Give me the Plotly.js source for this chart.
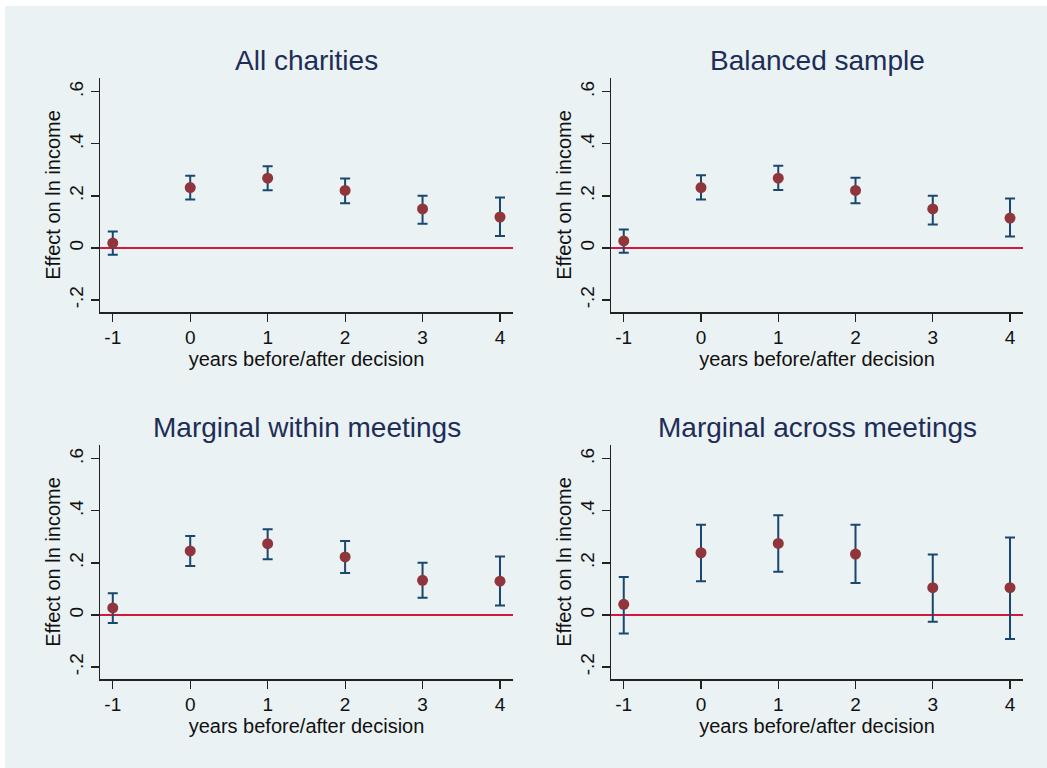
<!DOCTYPE html>
<html>
<head>
<meta charset="utf-8">
<script src="https://cdn.plot.ly/plotly-3.0.1.min.js"></script>
<style>html,body{margin:0;padding:0;background:#fff;}#chart{width:1047px;height:768px;}</style>
</head>
<body>
<div id="chart"></div>
<script>
// ---- data ----
const years = [-1, 0, 1, 2, 3, 4];

const panelTitles = ["All charities", "Balanced sample", "Marginal within meetings", "Marginal across meetings"];

const estAll = [0.019, 0.232, 0.268, 0.221, 0.150, 0.119];
const hiAll  = [0.063, 0.277, 0.314, 0.267, 0.201, 0.194];
const loAll  = [-0.026, 0.186, 0.222, 0.172, 0.093, 0.046];

const estBal = [0.027, 0.232, 0.268, 0.221, 0.150, 0.115];
const hiBal  = [0.071, 0.279, 0.316, 0.270, 0.201, 0.190];
const loBal  = [-0.018, 0.186, 0.223, 0.172, 0.090, 0.044];

const estWithin = [0.027, 0.246, 0.274, 0.223, 0.133, 0.130];
const hiWithin  = [0.083, 0.303, 0.329, 0.284, 0.201, 0.225];
const loWithin  = [-0.031, 0.188, 0.214, 0.161, 0.066, 0.036];

const estAcross = [0.041, 0.239, 0.275, 0.234, 0.105, 0.105];
const hiAcross  = [0.146, 0.347, 0.383, 0.347, 0.232, 0.298];
const loAcross  = [-0.071, 0.130, 0.166, 0.123, -0.026, -0.092];

const yTickVals = [-0.2, 0, 0.2, 0.4, 0.6];
const yTickText = ["-.2", "0", ".2", ".4", ".6"];
const xTickVals = [-1, 0, 1, 2, 3, 4];
const xTickText = ["-1", "0", "1", "2", "3", "4"];
const gridVals = [0.2, 0.4];

const xTitle = "years before/after decision";
const yTitle = "Effect on ln income";

// ---- styling / layout ----
const W = 1047, H = 768;
const FONT = "Liberation Sans, Arial, sans-serif";
const BG = "#EAF2F3";
const MARKER = "#90353B";
const BAR = "#1A476F";
const ZERO = "#D4173E";
const TITLE_C = "#1E2D58";

const series = [
  [estAll, hiAll, loAll],
  [estBal, hiBal, loBal],
  [estWithin, hiWithin, loWithin],
  [estAcross, hiAcross, loAcross]
];

// pixel boxes of plot areas [left, right, top, bottom]
const boxes = [
  [100, 513, 78, 312],
  [611, 1023, 78, 312],
  [100, 513, 445, 679],
  [611, 1023, 445, 679]
];
const titleY = [60, 60, 427, 427];

const traces = [];
const layout = {
  width: W, height: H,
  margin: {l: 0, r: 0, t: 0, b: 0},
  paper_bgcolor: "#ffffff",
  plot_bgcolor: "#ffffff",
  showlegend: false,
  font: {family: FONT, color: "#111111"},
  shapes: [{
    type: "rect", xref: "paper", yref: "paper",
    x0: 5 / W, x1: 1, y0: 0, y1: 1 - 6 / H,
    fillcolor: BG, line: {width: 0}, layer: "below"
  }],
  annotations: []
};

series.forEach((s, i) => {
  const [est, hi, lo] = s;
  const n = i + 1;
  const xa = "x" + (n === 1 ? "" : n);
  const ya = "y" + (n === 1 ? "" : n);
  traces.push({
    type: "scatter", mode: "markers",
    x: years, y: est, xaxis: xa, yaxis: ya,
    marker: {color: MARKER, size: 11},
    error_y: {
      type: "data", symmetric: false,
      array: est.map((v, k) => hi[k] - v),
      arrayminus: est.map((v, k) => v - lo[k]),
      color: BAR, thickness: 2, width: 5
    },
    hoverinfo: "x+y"
  });
  const [l, r, t, b] = boxes[i];
  const xKey = "xaxis" + (n === 1 ? "" : n);
  const yKey = "yaxis" + (n === 1 ? "" : n);
  layout[xKey] = {
    domain: [l / W, r / W], anchor: ya,
    range: [-1.165, 4.168],
    tickvals: xTickVals, ticktext: xTickText,
    ticks: "outside", ticklen: 8, tickwidth: 1.2, tickcolor: "#222",
    showline: true, linecolor: "#222", linewidth: 1.5,
    showgrid: false, zeroline: false,
    tickfont: {family: FONT, size: 19, color: "#111"},
    title: {text: xTitle, font: {family: FONT, size: 20, color: "#111"}, standoff: 0}
  };
  layout[yKey] = {
    domain: [1 - b / H, 1 - t / H], anchor: xa,
    range: [-0.246, 0.653],
    tickvals: yTickVals, ticktext: yTickText, tickangle: -90,
    ticks: "outside", ticklen: 8, tickwidth: 1.2, tickcolor: "#222",
    showline: true, linecolor: "#222", linewidth: 1.5,
    showgrid: false, zeroline: false,
    tickfont: {family: FONT, size: 19, color: "#111"},
    title: {text: yTitle, font: {family: FONT, size: 20, color: "#111"}, standoff: 0}
  };
  gridVals.forEach(g => {
    layout.shapes.push({
      type: "line", xref: xa + " domain", yref: ya,
      x0: 0, x1: 1, y0: g, y1: g,
      line: {color: BG, width: 1.5}, layer: "below"
    });
  });
  layout.shapes.push({
    type: "line", xref: xa + " domain", yref: ya,
    x0: 0, x1: 1, y0: 0, y1: 0,
    line: {color: ZERO, width: 2}, layer: "below"
  });
  layout.annotations.push({
    xref: "paper", yref: "paper",
    x: (l + r) / 2 / W, y: 1 - titleY[i] / H,
    xanchor: "center", yanchor: "middle",
    text: panelTitles[i], showarrow: false,
    font: {family: FONT, size: 28, color: TITLE_C}
  });
});

Plotly.newPlot("chart", traces, layout, {displayModeBar: false, staticPlot: true});
</script>
</body>
</html>
